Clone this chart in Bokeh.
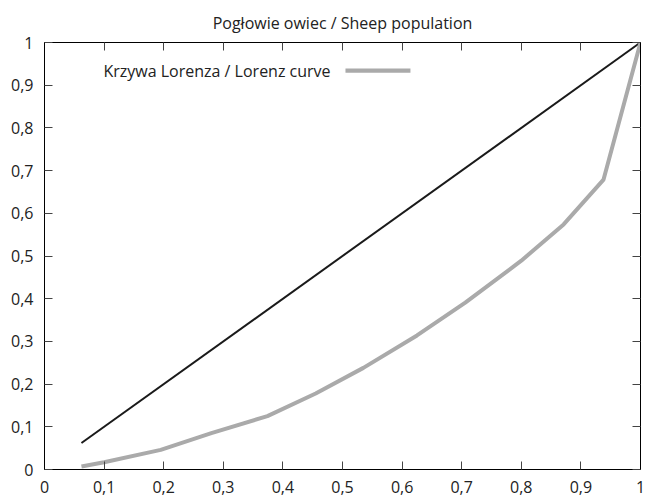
from bokeh.plotting import figure
from bokeh.models import (FixedTicker, CustomJSTickFormatter, LinearAxis, Range1d,
                          Label, BoxAnnotation)
from bokeh.embed import file_html
from bokeh.resources import INLINE

# Lorenz curve data (cumulative share of holdings vs cumulative share of sheep)
lorenz_x = [0.062, 0.10, 0.195, 0.28, 0.374, 0.455, 0.535, 0.625, 0.706, 0.80, 0.871, 0.938, 1.0]
lorenz_y = [0.007, 0.017, 0.046, 0.085, 0.125, 0.178, 0.238, 0.314, 0.391, 0.489, 0.574, 0.679, 1.0]
equality_x = [0.062, 1.0]
equality_y = [0.062, 1.0]
ticks = [0, 0.1, 0.2, 0.3, 0.4, 0.5, 0.6, 0.7, 0.8, 0.9, 1.0]

title_text = "Pogłowie owiec / Sheep population"
legend_text = "Krzywa Lorenza / Lorenz curve"
FONT = "Open Sans"
FS = "16px"

p = figure(width=645, height=497, output_backend="svg", toolbar_location=None,
           x_range=Range1d(0, 1), y_range=Range1d(0, 1),
           min_border_left=44, min_border_right=5, min_border_top=42, min_border_bottom=28,
           x_axis_location=None, y_axis_location=None)
p.grid.visible = False
p.outline_line_color = "black"
p.outline_line_width = 1

p.title.text = title_text
p.title.align = "center"
p.title.text_font = FONT
p.title.text_font_size = FS
p.title.text_font_style = "normal"
p.title.text_color = "#222222"
p.title.standoff = 18

fmt = CustomJSTickFormatter(code="""
if (Math.abs(tick) < 1e-9) return "0";
if (Math.abs(tick - 1) < 1e-9) return "1";
return tick.toFixed(1).replace(".", ",");
""")
blank = CustomJSTickFormatter(code='return "";')

def make_axis(labels, standoff=0):
    ax = LinearAxis(ticker=FixedTicker(ticks=ticks), formatter=fmt if labels else blank)
    ax.major_tick_in = 8
    ax.major_tick_out = 0
    ax.minor_tick_line_color = None
    ax.axis_line_color = "black"
    ax.major_tick_line_color = "#444444"
    ax.major_label_text_font = FONT
    ax.major_label_text_font_size = FS
    ax.major_label_text_color = "#222222"
    ax.major_label_standoff = standoff
    return ax

p.add_layout(make_axis(True, 11), "below")
p.add_layout(make_axis(True, 11), "left")
p.add_layout(make_axis(False), "above")
p.add_layout(make_axis(False), "right")

p.line(equality_x, equality_y, line_color="#1a1a1a", line_width=2)
p.line(lorenz_x, lorenz_y, line_color="#aaaaaa", line_width=4)

# gnuplot-style key: text then sample line
p.add_layout(Label(x=0.48, y=0.934, text=legend_text, text_align="right",
                   text_baseline="middle", text_font=FONT, text_font_size=FS,
                   text_color="#222222"))
p.add_layout(BoxAnnotation(left=0.505, right=0.614, bottom=0.929, top=0.939,
                           fill_color="#aaaaaa", fill_alpha=1, line_color=None))

open("out.html", "w").write(file_html(p, INLINE))
